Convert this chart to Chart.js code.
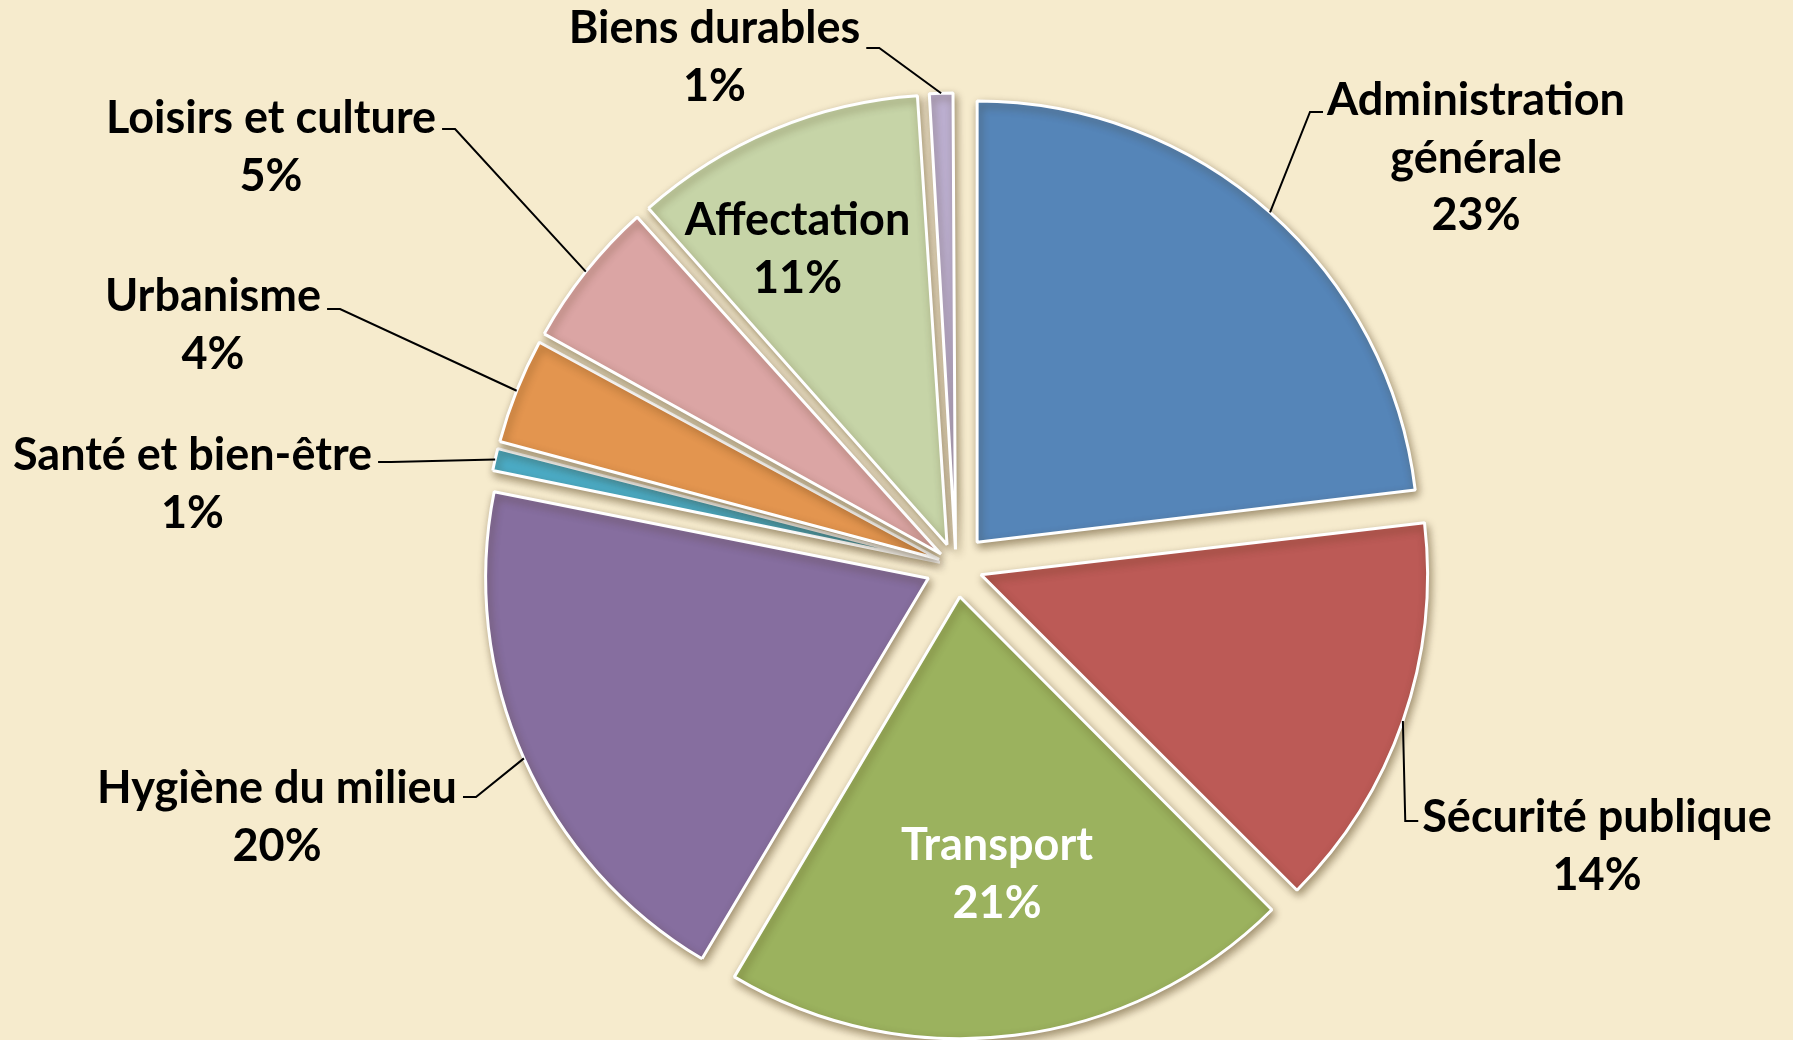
<!DOCTYPE html>
<html><head><meta charset="utf-8">
<script src="https://cdn.jsdelivr.net/npm/chart.js@4/dist/chart.umd.min.js"></script>
<style>html,body{margin:0;padding:0;background:#F6EBCD;overflow:hidden}canvas{display:block}</style>
</head><body>
<canvas id="c" width="1793" height="1040"></canvas>
<script>
// ---- data ----
const categories = [
  ['Administration', 'générale'],
  ['Sécurité publique'],
  ['Transport'],
  ['Hygiène du milieu'],
  ['Santé et bien-être'],
  ['Urbanisme'],
  ['Loisirs et culture'],
  ['Affectation'],
  ['Biens durables']
];
const values = [23.1, 14.4, 21.0, 19.6, 0.95, 3.9, 5.4, 10.6, 1.0];
const colors = ['#5585B8', '#BC5A56', '#9BB25E', '#866E9F', '#4BACC6', '#E3954F', '#DBA5A4', '#C6D4A7', '#BCAFD0'];

// ---- styling / layout ----
const RADIUS = 441;      // pie radius
const EXPLODE = 32;      // explosion distance of each slice
const FONT = 'bold 45px Lato, "Open Sans", sans-serif';
const LINE_H = 57.5;
// label anchor (centre of text, baseline of first line) relative to pie centre
const labelLayout = [
  {dx: 520, dy: -451, side: 'R', ly: -3},
  {dx: 641, dy: 266, side: 'R', ly: -11},
  {dx: 41, dy: 294, inside: true, color: '#FFFFFF'},
  {dx: -679, dy: 237, side: 'L', ly: -6},
  {dx: -763.5, dy: -96, side: 'L', ly: -8},
  {dx: -743, dy: -255, side: 'L', ly: -2},
  {dx: -685, dy: -433, side: 'L', ly: -4},
  {dx: -158.5, dy: -331, inside: true},
  {dx: -241.5, dy: -523, side: 'L', ly: 5}
];

const total = values.reduce((a, b) => a + b, 0);
function fixOf(i) {
  const circ = 2 * Math.PI * values[i] / total;
  return 1 - Math.sin(Math.min(Math.PI, circ));
}
// Chart.js moves an arc by offset/4*(1+fix); choose offset so that every slice moves by EXPLODE
function offsetFor(i) { return 4 * EXPLODE / (1 + fixOf(i)); }

const shadow = {
  id: 'shadow',
  beforeDatasetsDraw(chart) {
    const c = chart.ctx;
    c.save();
    c.shadowColor = 'rgba(60,40,0,0.45)';
    c.shadowBlur = 9;
    c.shadowOffsetX = 2;
    c.shadowOffsetY = 4;
  },
  afterDatasetsDraw(chart) { chart.ctx.restore(); }
};

const labels = {
  id: 'pieLabels',
  afterDraw(chart) {
    const c = chart.ctx;
    const meta = chart.getDatasetMeta(0);
    c.save();
    c.font = FONT;
    c.textAlign = 'center';
    c.textBaseline = 'alphabetic';
    meta.data.forEach((arc, i) => {
      const L = labelLayout[i];
      const cx = arc.x, cy = arc.y;
      const ax = cx + L.dx, ay = cy + L.dy;
      const pct = Math.round(values[i] / total * 100) + '%';
      const lines = categories[i].concat([pct]);
      c.fillStyle = L.color || '#000000';
      lines.forEach((t, k) => c.fillText(t, ax, ay + k * LINE_H));
      if (!L.inside) {
        const w = c.measureText(lines[0]).width;
        const mid = (arc.startAngle + arc.endAngle) / 2;
        const ex = cx + (RADIUS + EXPLODE) * Math.cos(mid);
        const ey = cy + (RADIUS + EXPLODE) * Math.sin(mid);
        const sy = ay + L.ly;
        const sx = L.side === 'L' ? ax + w / 2 + 6 : ax - w / 2 - 4;
        const bx = L.side === 'L' ? sx + 13 : sx - 13;
        c.beginPath();
        c.moveTo(sx, sy);
        c.lineTo(bx, sy);
        c.lineTo(ex, ey);
        c.strokeStyle = '#000000';
        c.lineWidth = 2;
        c.stroke();
      }
    });
    c.restore();
  }
};

new Chart(document.getElementById('c'), {
  type: 'pie',
  data: {
    labels: categories,
    datasets: [{
      data: values,
      backgroundColor: colors,
      borderColor: '#FFFFFF',
      borderWidth: 3,
      offset: ctx => offsetFor(ctx.dataIndex)
    }]
  },
  options: {
    responsive: false,
    devicePixelRatio: 1,
    animation: false,
    radius: RADIUS,
    layout: {padding: {left: 119, top: 92, right: 0, bottom: 0}},
    plugins: {legend: {display: false}, tooltip: {enabled: false}}
  },
  plugins: [shadow, labels]
});
</script>
</body></html>
